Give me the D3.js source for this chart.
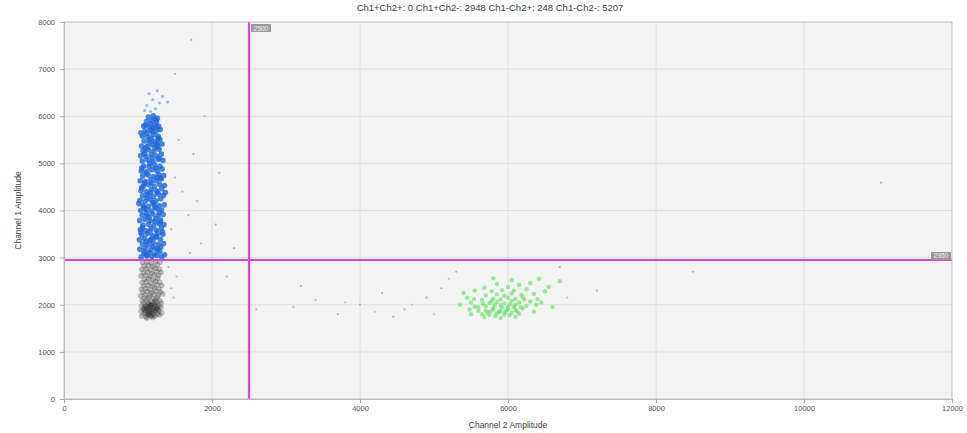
<!DOCTYPE html>
<html>
<head>
<meta charset="utf-8">
<script src="https://cdn.jsdelivr.net/npm/d3@7"></script>
<style>
  html, body { margin: 0; padding: 0; background: #ffffff; }
  svg { display: block; font-family: "Liberation Sans", Arial, sans-serif; }
</style>
</head>
<body>
<svg id="chart" width="967" height="433"></svg>
<script>
// Droplet amplitudes from a two-channel digital PCR run.
const titleText = "Ch1+Ch2+: 0  Ch1+Ch2-: 2948  Ch1-Ch2+: 248  Ch1-Ch2-: 5207";
const xTicks = [0, 2000, 4000, 6000, 8000, 10000, 12000];
const yTicks = [0, 1000, 2000, 3000, 4000, 5000, 6000, 7000, 8000];
const xLabel = "Channel 2 Amplitude";
const yLabel = "Channel 1 Amplitude";
const ch2Threshold = 2500;
const ch1Threshold = 2950;

// Ch1+Ch2- droplets (blue)
const ch1PosDroplets = [
  [1042,3010],[1118,3035],[1187,3022],[1256,3048],[1321,3015],[1078,3090],[1152,3110],[1224,3075],[1295,3130],[1360,3060],
  [1025,3180],[1096,3205],[1170,3160],[1241,3190],[1308,3225],[1060,3290],[1133,3270],[1205,3310],[1276,3285],[1345,3300],
  [1018,3380],[1089,3405],[1161,3365],[1233,3420],[1302,3390],[1052,3480],[1125,3510],[1196,3470],[1268,3525],[1336,3495],
  [1031,3590],[1104,3570],[1176,3615],[1247,3580],[1314,3630],[1067,3690],[1140,3710],[1212,3675],[1283,3720],[1350,3700],
  [1022,3790],[1093,3815],[1165,3780],[1238,3830],[1305,3800],[1056,3900],[1129,3885],[1201,3925],[1272,3890],[1340,3915],
  [1035,4000],[1108,4025],[1180,3990],[1251,4040],[1318,4010],[1071,4105],[1144,4090],[1216,4130],[1287,4100],[1355,4120],
  [1026,4210],[1097,4195],[1169,4235],[1242,4205],[1309,4250],[1060,4310],[1133,4335],[1205,4300],[1276,4345],[1343,4320],
  [1040,4420],[1112,4400],[1184,4445],[1255,4415],[1322,4460],[1075,4520],[1148,4545],[1220,4510],[1291,4555],[1358,4530],
  [1030,4630],[1101,4615],[1173,4655],[1246,4625],[1313,4670],[1064,4730],[1137,4755],[1209,4720],[1280,4765],[1347,4740],
  [1044,4840],[1116,4825],[1188,4865],[1259,4835],[1326,4880],[1079,4945],[1152,4930],[1224,4970],[1295,4940],[1058,5050],
  [1130,5075],[1202,5040],[1273,5085],[1338,5060],[1035,5160],[1107,5145],[1180,5185],[1251,5155],[1316,5200],[1070,5265],
  [1143,5290],[1215,5255],[1286,5300],[1048,5370],[1121,5355],[1193,5395],[1264,5365],[1325,5410],[1083,5475],[1156,5500],
  [1228,5465],[1296,5510],[1060,5580],[1133,5565],[1205,5605],[1274,5575],[1095,5685],[1168,5710],[1240,5675],[1300,5720],
  [1078,5790],[1150,5775],[1220,5815],[1280,5785],[1115,5890],[1185,5910],[1250,5880],[1140,5985],[1205,6010],[1262,5960],
  [1090,3140],[1200,3240],[1110,3340],[1250,3450],[1160,3560],[1060,3640],[1230,3760],[1150,3850],[1290,3960],[1080,4060],
  [1200,4170],[1120,4270],[1260,4380],[1050,4480],[1180,4590],[1300,4690],[1110,4790],[1240,4900],[1160,5000],[1290,5110],
  [1090,5210],[1230,5330],[1150,5430],[1270,5540],[1120,5640],[1200,5740],[1170,5840],[1330,3550],[1010,4150],[1370,4380],
  [1120,3060],[1270,3170],[1180,3390],[1040,3530],[1300,3750],[1110,3950],[1230,4070],[1170,4380],[1090,4580],[1260,4700],
  [1050,4900],[1190,5120],[1100,5320],[1260,5420],[1180,5520],[1040,5650],[1250,5760],[1190,5680],[1100,5810],[1230,5940]
];

// sparse droplets above the blue cluster
const ch1PosTail = [
  [1170,6100],[1235,6160],[1120,6230],[1290,6280],[1200,6350],[1330,6420],[1150,6480],[1260,6540],[1400,6300],[1090,6120]
];

// Ch1-Ch2- droplets (black)
const dblNegDroplets = [
  [1050,1760],[1110,1745],[1170,1770],[1230,1755],[1290,1780],[1080,1810],[1140,1800],[1200,1825],[1260,1805],[1320,1830],
  [1040,1860],[1100,1875],[1160,1850],[1220,1880],[1280,1865],[1070,1920],[1130,1905],[1190,1935],[1250,1915],[1310,1940],
  [1045,1975],[1105,1990],[1165,1965],[1225,1995],[1285,1980],[1075,2030],[1135,2045],[1195,2020],[1255,2050],[1315,2035],
  [1055,2085],[1115,2100],[1175,2075],[1235,2105],[1295,2090],[1085,2140],[1145,2155],[1205,2130],[1265,2160],[1035,2190],
  [1095,2210],[1155,2195],[1215,2225],[1275,2205],[1335,2230],[1065,2265],[1125,2280],[1185,2255],[1245,2290],[1305,2270],
  [1045,2330],[1105,2345],[1165,2320],[1225,2355],[1285,2340],[1075,2400],[1135,2415],[1195,2390],[1255,2425],[1320,2410],
  [1055,2470],[1115,2485],[1175,2460],[1235,2495],[1295,2480],[1085,2540],[1145,2555],[1205,2530],[1265,2565],[1040,2610],
  [1100,2625],[1160,2600],[1220,2635],[1280,2620],[1070,2680],[1130,2695],[1190,2670],[1250,2705],[1310,2690],[1050,2750],
  [1110,2765],[1170,2740],[1230,2775],[1290,2760],[1080,2820],[1140,2835],[1200,2810],[1260,2845],[1060,2890],[1120,2905],
  [1180,2880],[1240,2915],[1300,2900],
  [1100,1830],[1160,1890],[1220,1950],[1120,1960],[1180,2000],[1240,1860],[1150,1940],[1210,1790],[1090,1950],[1270,1900],
  [1130,1780],[1190,1860],[1110,1920],[1170,1980],[1230,2060],[1150,2010],[1200,1900],[1140,1850],[1180,1760],[1250,1990],
  [1120,1720],[1200,1730],[1160,1810],[1080,1890],[1260,1940]
];

// Ch1-Ch2+ droplets (green)
const ch2PosDroplets = [
  [5650,1800],[5750,1780],[5850,1820],[5950,1790],[6050,1830],[6150,1810],[5700,1880],[5800,1900],[5900,1870],[6000,1910],
  [6100,1890],[6200,1920],[5600,1950],[5700,1970],[5800,1940],[5900,1990],[6000,1960],[6100,2000],[6250,1980],[5750,2040],
  [5850,2060],[5950,2030],[6050,2080],[6150,2050],[6300,2070],[5650,2100],[5800,2130],[5900,2110],[6000,2150],[6100,2120],
  [6200,2160],[5700,2200],[5850,2220],[5950,2190],[6050,2240],[6180,2210],[6350,2230],[5600,1870],[5550,1960],[5500,2050],
  [6400,2120],[5780,2290],[5920,2310],[6080,2300],[6250,2330],[5680,2360],[6000,2380],[6150,2420],[5850,2440],[6300,2460],
  [5480,1900],[5450,2150],[6450,2050],[6500,2280],[6550,2380],[5400,2250],[5550,2300],[6700,2500],[5350,2000],[6600,1950],
  [5900,1720],[6100,1740],[5500,1800],[6350,1850],[6420,2550],[6050,2520],[5800,2560],[5680,1740],
  [5880,1850],[5980,1880],[6080,1950],[5760,1860],[5920,1940],[6030,2010],[5820,2000],[6170,1950],
  [5720,1830],[5960,1840],[6120,1860],[5830,1760],[6020,1780],[5780,2080],[6220,2110],[5660,2020],[6380,2000],[5540,2120]
];

// Scattered droplets between clusters
const rainDroplets = [
  [1720,7620],[11040,4590],[1850,3300],[2050,3700],[1600,4400],[1750,5200],[1900,6000],[2200,2600],[2600,1900],[3100,1950],
  [3400,2100],[3700,1800],[4000,2000],[4300,2250],[4600,1900],[4900,2150],[5100,2350],[5300,2700],[6700,2800],[8500,2700],
  [7200,2300],[1500,6900],[2100,4800],[1680,3900],[3200,2400],[4450,1750],[1450,2350],[1520,2600],[1410,2800],[1480,2150]
];
const rainCh2 = [[4200,1850],[4700,2000],[5000,1800],[5200,2550],[6800,2150],[3800,2050]];
const rainCh1 = [[1450,3600],[1500,4700],[1550,5500],[1700,3100],[2300,3200],[1800,4200]];

const svg = d3.select("#chart");
const margin = { left: 64, right: 15, top: 22, bottom: 34 };
const W = 967, H = 433;
const x = d3.scaleLinear().domain([0, 12000]).range([margin.left, W - margin.right]);
const y = d3.scaleLinear().domain([0, 8000]).range([H - margin.bottom, margin.top]);

// plot panel
svg.append("rect")
  .attr("x", x(0)).attr("y", y(8000))
  .attr("width", x(12000) - x(0)).attr("height", y(0) - y(8000))
  .attr("fill", "#f3f3f3");

svg.append("defs").append("clipPath").attr("id", "plotClip")
  .append("rect")
  .attr("x", x(0)).attr("y", y(8000))
  .attr("width", x(12000) - x(0)).attr("height", y(0) - y(8000));

// grid
const grid = svg.append("g");
grid.selectAll("line.gx").data(xTicks.slice(1, -1)).join("line")
  .attr("x1", d => x(d)).attr("x2", d => x(d))
  .attr("y1", y(0)).attr("y2", y(8000))
  .attr("stroke", "#e0e0e0").attr("stroke-width", 1);
grid.selectAll("line.gy").data(yTicks.slice(1, -1)).join("line")
  .attr("y1", d => y(d)).attr("y2", d => y(d))
  .attr("x1", x(0)).attr("x2", x(12000))
  .attr("stroke", "#e0e0e0").attr("stroke-width", 1);

const plot = svg.append("g").attr("clip-path", "url(#plotClip)");

function drawDots(data, color, r, opacity) {
  plot.append("g").selectAll("circle").data(data).join("circle")
    .attr("cx", d => x(d[0])).attr("cy", d => y(d[1]))
    .attr("r", r).attr("fill", color).attr("fill-opacity", opacity);
}

drawDots(rainDroplets, "#a0a0a0", 1.1, 0.75);
drawDots(rainCh2, "#77dd77", 1.1, 0.75);
drawDots(rainCh1, "#7aa4ea", 1.1, 0.75);
drawDots(dblNegDroplets, "#1c1c1c", 2.8, 0.26);
drawDots(ch1PosTail, "#6e9fea", 1.5, 0.7);
drawDots(ch1PosDroplets, "#1f68dc", 2.8, 0.8);
drawDots(ch2PosDroplets, "#45e045", 2.2, 0.5);

// thresholds
svg.append("line")
  .attr("x1", x(ch2Threshold)).attr("x2", x(ch2Threshold))
  .attr("y1", y(8000)).attr("y2", y(0))
  .attr("stroke", "#d648d6").attr("stroke-width", 2.2);
svg.append("line")
  .attr("x1", x(0)).attr("x2", x(12000))
  .attr("y1", y(ch1Threshold)).attr("y2", y(ch1Threshold))
  .attr("stroke", "#d648d6").attr("stroke-width", 2.2);

// threshold value tags
const tagV = svg.append("g").attr("transform", `translate(${x(ch2Threshold) + 2},${y(8000) + 2})`);
tagV.append("rect").attr("width", 20).attr("height", 8).attr("fill", "#9a9a9a");
tagV.append("text").attr("x", 10).attr("y", 6.5).attr("text-anchor", "middle")
  .attr("font-size", 6.5).attr("fill", "#f0f0f0").text(ch2Threshold);
const tagH = svg.append("g").attr("transform", `translate(${x(12000) - 21},${y(ch1Threshold) - 8})`);
tagH.append("rect").attr("width", 20).attr("height", 8).attr("fill", "#9a9a9a");
tagH.append("text").attr("x", 10).attr("y", 6.5).attr("text-anchor", "middle")
  .attr("font-size", 6.5).attr("fill", "#f0f0f0").text(ch1Threshold);

// frame
svg.append("rect")
  .attr("x", x(0)).attr("y", y(8000))
  .attr("width", x(12000) - x(0)).attr("height", y(0) - y(8000))
  .attr("fill", "none").attr("stroke", "#bdbdbd").attr("stroke-width", 1);

// axes
const xAxis = svg.append("g").attr("transform", `translate(0,${y(0)})`)
  .call(d3.axisBottom(x).tickValues(xTicks).tickFormat(d3.format("d")).tickSize(4).tickPadding(3));
const yAxis = svg.append("g").attr("transform", `translate(${x(0)},0)`)
  .call(d3.axisLeft(y).tickValues(yTicks).tickFormat(d3.format("d")).tickSize(4).tickPadding(5));
[xAxis, yAxis].forEach(a => {
  a.select(".domain").attr("stroke", "#bdbdbd");
  a.selectAll(".tick line").attr("stroke", "#aaaaaa");
  a.selectAll(".tick text").attr("font-size", 7.5).attr("fill", "#555")
    .attr("font-family", "Liberation Sans, Arial, sans-serif");
});

svg.append("text")
  .attr("x", (x(0) + x(12000)) / 2).attr("y", 428)
  .attr("text-anchor", "middle").attr("font-size", 8.5).attr("fill", "#444")
  .text(xLabel);
svg.append("text")
  .attr("transform", `translate(21,${(y(0) + y(8000)) / 2}) rotate(-90)`)
  .attr("text-anchor", "middle").attr("font-size", 8.5).attr("fill", "#444")
  .text(yLabel);
svg.append("text")
  .attr("x", 490).attr("y", 11)
  .attr("text-anchor", "middle").attr("font-size", 9.5).attr("fill", "#444")
  .text(titleText);
</script>
</body>
</html>
